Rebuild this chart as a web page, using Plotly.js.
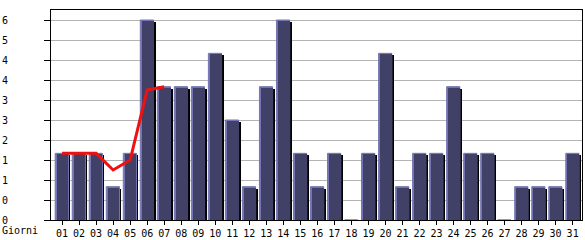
<!DOCTYPE html>
<html>
<head>
<meta charset="utf-8">
<script src="https://cdn.plot.ly/plotly-3.0.1.min.js"></script>
<style>html,body{margin:0;padding:0;background:#fff;}#chart{width:585px;height:240px;}</style>
</head>
<body>
<div id="chart"></div>
<script>
const days = ["01","02","03","04","05","06","07","08","09","10","11","12","13","14","15","16","17","18","19","20","21","22","23","24","25","26","27","28","29","30","31"];
const visits = [2,2,2,1,2,6,4,4,4,5,3,1,4,6,2,1,2,0,2,5,1,2,2,4,2,2,0,1,1,1,2];
const trendDays = ["01","02","03","04","05","06","07"];
const trendValues = [2,2,2,1.5,1.8,3.9,4.0];
const yTickVals = [0,0.6,1.2,1.8,2.4,3.0,3.6,4.2,4.8,5.4,6.0];
const yTickText = ["0","0","1","1","2","3","3","4","4","5","6"];
const xLabel = "Giorni";

const plotW = 531, plotH = 210;
const xMin = -0.65, xMax = 30.55, yMax = 6.3;
const pxX = (xMax - xMin) / plotW;
const pxY = yMax / plotH;
const barW = 13.2 * pxX;
const barOff = -6.85 * pxX;

const shadow = {
  type: 'bar', x: days, y: visits.map(v => Math.max(v - 2 * pxY, 0)),
  width: barW, offset: barOff + 2 * pxX,
  marker: {color: '#000000', line: {width: 0}}, hoverinfo: 'skip', showlegend: false
};
const edge = {
  type: 'bar', x: days, y: visits,
  width: barW, offset: barOff,
  marker: {color: '#7474b4', line: {width: 1, color: '#7474b4'}}, hoverinfo: 'skip', showlegend: false
};
const body = {
  type: 'bar', x: days, y: visits.map(v => Math.max(v - 1 * pxY, 0)),
  width: barW - 1.5 * pxX, offset: barOff + 1.5 * pxX,
  marker: {color: '#414168', line: {width: 0}}, showlegend: false
};
const trend = {
  type: 'scatter', mode: 'lines', x: trendDays, y: trendValues,
  line: {color: '#f01010', width: 3}, showlegend: false
};

const font = {family: 'DejaVu Sans Mono, monospace', size: 10, color: '#000'};
const layout = {
  width: 585, height: 240,
  margin: {l: 51, r: 3, t: 10, b: 20, pad: 0},
  paper_bgcolor: '#fff', plot_bgcolor: '#fff',
  barmode: 'overlay', bargap: 0,
  font: font,
  xaxis: {
    type: 'category', range: [xMin, xMax],
    showgrid: false, zeroline: false,
    showline: true, linecolor: '#000', linewidth: 1, mirror: true,
    ticks: 'outside', ticklen: 4, tickcolor: '#000', tickwidth: 1,
    tickfont: font, tickangle: 0
  },
  yaxis: {
    range: [0, yMax], tickmode: 'array', tickvals: yTickVals, ticktext: yTickText,
    showgrid: true, gridcolor: '#b4b4b4', gridwidth: 1, zeroline: false,
    showline: true, linecolor: '#000', linewidth: 1, mirror: true,
    ticks: 'outside', ticklen: 6, tickcolor: '#000', tickwidth: 1,
    ticklabelstandoff: 34, tickfont: font
  },
  annotations: [{
    text: xLabel, xref: 'paper', yref: 'paper', x: -51 / plotW, y: 0,
    xanchor: 'left', yanchor: 'top', yshift: -3, showarrow: false, font: font
  }]
};
Plotly.newPlot('chart', [shadow, edge, body, trend], layout, {staticPlot: true, displayModeBar: false});
</script>
</body>
</html>
